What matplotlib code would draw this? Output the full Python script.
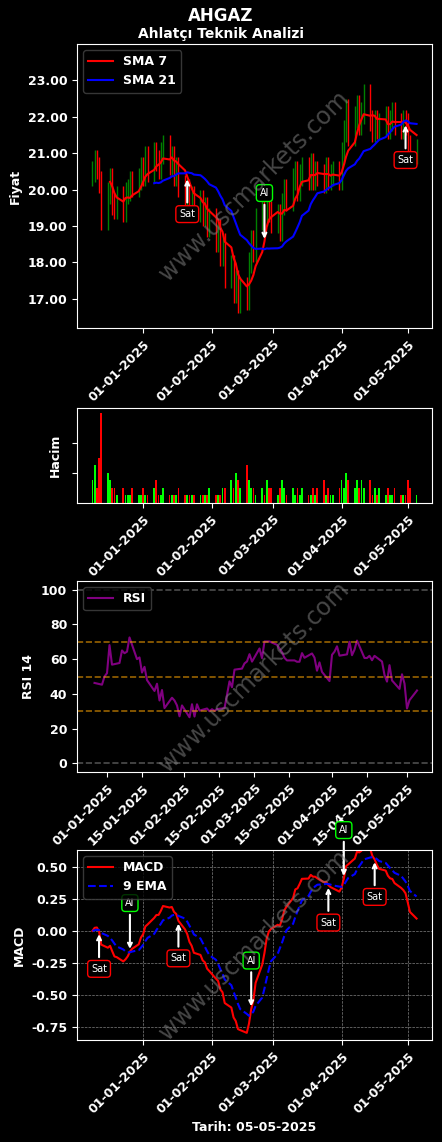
import matplotlib
matplotlib.use("Agg")
import matplotlib.pyplot as plt
import matplotlib.dates as mdates
import numpy as np
import pandas as pd

plt.rcParams['font.family'] = ['DejaVu Sans']
plt.rcParams['font.weight'] = 'bold'

close = [20.5,20.8,20.6,20.2,19.2,19.9,20.3,19.6,19.5,19.8,19.4,19.9,20.0,20.2,20.1,20.3,20.6,
         20.4,20.9,20.5,21.0,20.8,20.6,21.0,21.2,20.7,20.9,20.4,20.6,20.1,19.8,20.0,19.6,19.8,19.4,19.7,19.3,19.5,19.0,19.2,
         18.6,18.9,18.2,18.5,17.6,17.9,17.2,17.5,16.9,17.3,17.0,18.0,18.6,18.3,19.2,19.6,19.3,19.8,19.4,19.1,
         19.3,18.9,19.6,20.0,19.7,20.3,20.5,20.0,20.4,20.6,20.3,20.7,20.3,20.5,20.4,20.2,20.6,20.3,20.4,20.5,20.3,
         21.0,21.6,22.2,21.5,22.0,22.3,21.8,22.1,22.6,21.9,21.6,21.9,21.7,21.8,22.0,21.7,21.9,22.1,21.8,21.7,21.9,21.8,
         21.2,21.0,21.1]
volume = [3,5,2,6,12,4,3,2,2,1,2,1,1,1,2,1,1,
          2,1,1,2,3,1,1,2,1,1,1,1,2,1,1,1,1,1,1,1,1,1,2,
          1,1,1,2,2,3,2,4,3,2,5,3,2,2,1,2,1,3,2,2,
          1,2,3,2,1,2,1,2,1,2,1,1,2,1,2,3,1,2,1,1,2,
          3,2,4,3,2,3,2,3,2,3,1,2,1,2,1,2,1,1,2,1,1,1,
          3,2,1]
wick = 0.3

dates = pd.bdate_range("2024-12-09", periods=len(close))
c = pd.Series(close, index=dates)
o = c.shift(1).fillna(c.iloc[0] - 0.1)
sma7 = c.rolling(7).mean()
sma21 = c.rolling(21).mean()
d = c.diff()
up = d.clip(lower=0).rolling(14).mean()
dn = (-d.clip(upper=0)).rolling(14).mean()
rsi = 100 - 100 / (1 + up / dn)
macd = c.ewm(span=12, adjust=False).mean() - c.ewm(span=26, adjust=False).mean()
sig = macd.ewm(span=9, adjust=False).mean()

fig = plt.figure(figsize=(4.42, 11.42), dpi=100, facecolor='black')
W, H = 442, 1142
def mk(top, bot):
    ax = fig.add_axes([77/W, 1-bot/H, (432-77)/W, (bot-top)/H], facecolor='black')
    for s in ax.spines.values():
        s.set_color('white')
    ax.tick_params(colors='white', labelsize=9)
    return ax

xlim = (pd.Timestamp("2024-12-02"), pd.Timestamp("2025-05-12"))
def wm(ax):
    ax.text(0.5, 0.5, "www.uscmarkets.com", transform=ax.transAxes, rotation=45,
            ha='center', va='center', fontsize=17, color='gray', alpha=0.55, fontweight='normal')

def datefmt(ax, monthly=True, lim=xlim):
    if monthly:
        ax.xaxis.set_major_locator(mdates.MonthLocator(bymonthday=1))
    else:
        ax.xaxis.set_major_locator(mdates.DayLocator(bymonthday=[1, 15]))
    ax.xaxis.set_major_formatter(mdates.DateFormatter('%d-%m-%Y'))
    for l in ax.get_xticklabels():
        l.set_rotation(45); l.set_ha('right'); l.set_rotation_mode('anchor'); l.set_fontweight('bold')
    ax.set_xlim(*lim)

def ann(ax, x, y, buy):
    if buy:
        ax.annotate("Al", xy=(x, y), xytext=(0, 35), textcoords='offset points', ha='center', va='center',
                    color='white', fontsize=7, fontweight='normal',
                    bbox=dict(boxstyle='round,pad=0.35', fc='black', ec='lime'),
                    arrowprops=dict(arrowstyle='->', color='white', lw=1.5))
    else:
        ax.annotate("Sat", xy=(x, y), xytext=(0, -27), textcoords='offset points', ha='center', va='center',
                    color='white', fontsize=7, fontweight='normal',
                    bbox=dict(boxstyle='round,pad=0.35', fc='black', ec='red'),
                    arrowprops=dict(arrowstyle='->', color='white', lw=1.5))

def crosses(a, b, start):
    s = np.sign(a - b)
    out = []; last = -10
    for i in range(start, len(s)):
        if s.iloc[i] != s.iloc[i-1] and s.iloc[i] != 0 and s.iloc[i-1] != 0 and not np.isnan(s.iloc[i-1]):
            if i - last >= 4:
                out.append((i, s.iloc[i] > 0))
                last = i
    return out

# Price
ax1 = mk(44, 328)
for dt in dates:
    oo, cc = o[dt], c[dt]
    col = 'green' if cc >= oo else 'red'
    ax1.vlines(dt, min(oo, cc)-wick, max(oo, cc)+wick, color=col, lw=1)
ax1.plot(dates, sma7, color='red', lw=1.5, label='SMA 7')
ax1.plot(dates, sma21, color='blue', lw=1.5, label='SMA 21')
for i, b in crosses(sma7, sma21, 22):
    ann(ax1, dates[i], sma7.iloc[i], b)
ax1.set_ylim(16.2, 24.0)
ax1.set_yticks([17, 18, 19, 20, 21, 22, 23])
ax1.set_yticklabels([f"{v:.2f}" for v in [17, 18, 19, 20, 21, 22, 23]], fontweight='bold')
ax1.set_ylabel("Fiyat", color='white', fontweight='bold', fontsize=9)
ax1.legend(loc='upper left', facecolor='black', edgecolor='#444', labelcolor='white', prop={'weight': 'bold', 'size': 9})
datefmt(ax1); wm(ax1)
fig.text(0.5, 1-16/H, "AHGAZ", color='white', ha='center', va='center', fontsize=12, fontweight='bold')
fig.text(0.5, 1-34/H, "Ahlatçı Teknik Analizi", color='white', ha='center', va='center', fontsize=10, fontweight='bold')

# Volume
ax2 = mk(408, 503)
vcols = ['lime' if c[dt] >= o[dt] else 'red' for dt in dates]
ax2.bar(dates, volume, color=vcols, width=0.8)
ax2.set_yticks([4, 8]); ax2.set_yticklabels([])
ax2.set_ylabel("Hacim", color='white', fontweight='bold', fontsize=9)
datefmt(ax2)

# RSI
ax3 = mk(581, 772)
ax3.plot(dates, rsi, color='purple', lw=1.5, label='RSI')
for lv, cl in [(0, 'gray'), (30, 'orange'), (50, 'orange'), (70, 'orange'), (100, 'gray')]:
    ax3.axhline(lv, color=cl, ls='--', lw=1.2, alpha=0.6)
ax3.set_ylim(-5, 105)
ax3.set_yticks([0, 20, 40, 60, 80, 100])
ax3.set_ylabel("RSI 14", color='white', fontweight='bold', fontsize=9)
ax3.legend(loc='upper left', facecolor='black', edgecolor='#444', labelcolor='white', prop={'weight': 'bold', 'size': 9})
datefmt(ax3, monthly=False, lim=(pd.Timestamp("2024-12-20"), pd.Timestamp("2025-05-11"))); wm(ax3)

# MACD
ax4 = mk(850, 1040)
ax4.plot(dates, macd, color='red', lw=1.5, label='MACD')
ax4.plot(dates, sig, color='blue', lw=1.5, ls='--', label='9 EMA')
ax4.grid(True, color='gray', ls='--', lw=0.5)
for i, b in crosses(macd, sig, 2):
    ann(ax4, dates[i], macd.iloc[i], b)
ax4.set_ylim(-0.85, 0.63)
ax4.set_yticks([-0.75, -0.5, -0.25, 0, 0.25, 0.5])
ax4.set_yticklabels([f"{v:.2f}" for v in [-0.75, -0.5, -0.25, 0, 0.25, 0.5]], fontweight='bold')
ax4.set_ylabel("MACD", color='white', fontweight='bold', fontsize=9)
ax4.set_xlabel("Tarih: 05-05-2025", color='white', fontweight='bold', fontsize=9)
ax4.legend(loc='upper left', facecolor='black', edgecolor='#444', labelcolor='white', prop={'weight': 'bold', 'size': 9})
datefmt(ax4); wm(ax4)

fig.savefig("out.png", dpi=100, facecolor='black')
